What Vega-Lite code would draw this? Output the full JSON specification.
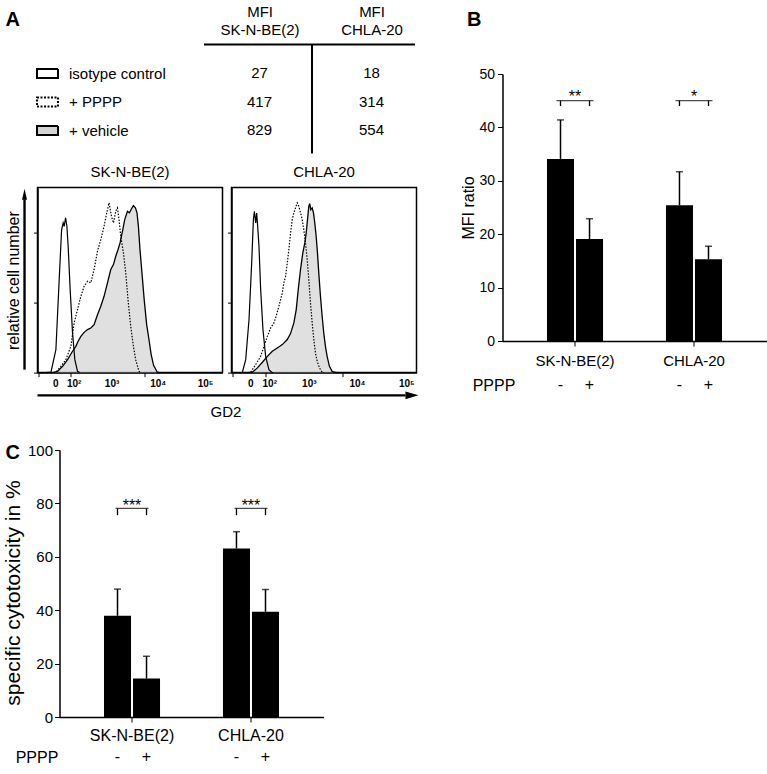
{
"$schema": "https://vega.github.io/schema/vega-lite/v6.json",
"padding": {"left": 2.5, "top": 0, "right": 0, "bottom": 0},
"autosize": {"type": "pad"},
"config": {
  "font": "Liberation Sans",
  "view": {"stroke": null},
  "axis": {"grid": false, "domainColor": "black", "tickColor": "black", "labelColor": "black", "titleColor": "black", "titleFontWeight": "normal"},
  "title": {"color": "black", "fontWeight": "normal"},
  "text": {"color": "black"}
},
"datasets": {
  "h1_iso": [{"x":-44,"n":0},{"x":-19,"n":0.3},{"x":0,"n":13.1},{"x":12.1,"n":53.1},{"x":22.3,"n":81.5},{"x":29.7,"n":85.5},{"x":34.6,"n":83.6},{"x":42,"n":88.4},{"x":49.3,"n":83.6},{"x":57,"n":72.2},{"x":69.9,"n":47.4},{"x":87,"n":22.7},{"x":105.6,"n":7.4},{"x":130,"n":0.7},{"x":150,"n":0}],
  "h1_ppp": [{"x":-20,"n":0},{"x":0,"n":0.2},{"x":19.2,"n":3.6},{"x":43.6,"n":7.4},{"x":74.7,"n":15},{"x":99.8,"n":28.4},{"x":130,"n":36},{"x":165,"n":43.6},{"x":205.5,"n":49.3},{"x":255,"n":52.2},{"x":311,"n":51.3},{"x":377,"n":58.9},{"x":457,"n":69.3},{"x":549,"n":76},{"x":656,"n":83.6},{"x":757,"n":91.3},{"x":855,"n":97},{"x":969,"n":89.3},{"x":1074,"n":85.5},{"x":1210,"n":92.2},{"x":1319,"n":94.1},{"x":1431,"n":87.4},{"x":1560,"n":77.9},{"x":1787,"n":68.4},{"x":2006,"n":57},{"x":2250,"n":41.7},{"x":2576,"n":26.5},{"x":2945,"n":15},{"x":3297,"n":7.4},{"x":3883,"n":0.7},{"x":4300,"n":0}],
  "h1_veh": [{"x":-10,"n":0},{"x":6,"n":0.7},{"x":26.8,"n":3.6},{"x":53.4,"n":7.4},{"x":87.2,"n":12.2},{"x":114.4,"n":15},{"x":136,"n":17.9},{"x":165,"n":20.7},{"x":205.5,"n":23},{"x":255,"n":24.6},{"x":311,"n":25.5},{"x":377,"n":27.4},{"x":457,"n":33.1},{"x":549,"n":37.9},{"x":656,"n":43.6},{"x":786,"n":51.3},{"x":934,"n":58.9},{"x":1074,"n":61.7},{"x":1210,"n":66.5},{"x":1360,"n":70.3},{"x":1506,"n":74.1},{"x":1700,"n":80.7},{"x":1908,"n":87.4},{"x":2184,"n":92.2},{"x":2413,"n":91.3},{"x":2667,"n":93.5},{"x":2945,"n":95.4},{"x":3253,"n":94.1},{"x":3521,"n":91.3},{"x":3771,"n":83.6},{"x":4079,"n":70.3},{"x":4592,"n":54},{"x":5019,"n":41.7},{"x":5670,"n":27.4},{"x":6349,"n":18.9},{"x":7070,"n":10.3},{"x":7987,"n":4},{"x":9570,"n":0.2},{"x":10500,"n":0}],
  "h2_iso": [{"x":-45,"n":0},{"x":-32.9,"n":0.2},{"x":-18.3,"n":7.4},{"x":-5.7,"n":30.3},{"x":3.3,"n":62.7},{"x":9.3,"n":87.4},{"x":13.1,"n":92.2},{"x":18.3,"n":85.5},{"x":22.4,"n":91.2},{"x":26.8,"n":83.6},{"x":32.9,"n":72.2},{"x":41.3,"n":47.4},{"x":53.8,"n":24.6},{"x":70.3,"n":9.3},{"x":93.5,"n":1.7},{"x":115.3,"n":0.2},{"x":130,"n":0}],
  "h2_ppp": [{"x":-10,"n":0},{"x":0,"n":0.2},{"x":18.3,"n":4.6},{"x":41.3,"n":9.3},{"x":59.7,"n":15},{"x":81.8,"n":20.7},{"x":106.9,"n":25.5},{"x":136.2,"n":28.4},{"x":153.1,"n":31.3},{"x":190,"n":37.9},{"x":234.3,"n":45.5},{"x":257.8,"n":51.3},{"x":284.6,"n":55},{"x":313.7,"n":62.7},{"x":343.3,"n":70.3},{"x":377.2,"n":79.8},{"x":413.8,"n":87.4},{"x":451,"n":91.3},{"x":493.8,"n":94.1},{"x":540.1,"n":97},{"x":587,"n":95},{"x":640.9,"n":91.3},{"x":699.2,"n":87.4},{"x":758.4,"n":81.7},{"x":826.4,"n":74.1},{"x":899.8,"n":64.6},{"x":974.5,"n":53.1},{"x":1060,"n":39.8},{"x":1153,"n":28.4},{"x":1247,"n":19},{"x":1355,"n":11.2},{"x":1472,"n":6.5},{"x":1646,"n":2.7},{"x":1874,"n":0.2},{"x":2050,"n":0}],
  "h2_veh": [{"x":-5,"n":0},{"x":5.7,"n":0.2},{"x":25.5,"n":2.7},{"x":50.4,"n":5.9},{"x":81.8,"n":9.3},{"x":121.4,"n":12.2},{"x":171.4,"n":14.1},{"x":234.3,"n":16},{"x":313.7,"n":18.9},{"x":377.2,"n":22.3},{"x":451,"n":28.4},{"x":512.4,"n":36},{"x":569,"n":47.4},{"x":640.9,"n":58.9},{"x":720.9,"n":68.4},{"x":797.9,"n":74.1},{"x":856,"n":79.8},{"x":913.3,"n":87.4},{"x":974.5,"n":95},{"x":1024,"n":96.6},{"x":1076,"n":93.1},{"x":1153,"n":94.1},{"x":1229,"n":91.3},{"x":1310,"n":85.5},{"x":1402,"n":77.9},{"x":1494,"n":68.4},{"x":1591,"n":57},{"x":1727,"n":43.6},{"x":1874,"n":32.2},{"x":2024,"n":22.7},{"x":2195,"n":15},{"x":2381,"n":9.3},{"x":2657,"n":3.6},{"x":3022,"n":0.7},{"x":3417,"n":0.2},{"x":3800,"n":0}],
  "ticklabels": [{"v":0,"t":"0"},{"v":100,"t":"10²"},{"v":1000,"t":"10³"},{"v":10000,"t":"10⁴"},{"v":100000,"t":"10⁵"}]
},
"vconcat": [
 {"hconcat": [
   {"vconcat": [
     {"hconcat": [
       {"width": 20, "height": 109,
        "title": {"text": ["", "A"], "lineHeight": 10, "anchor": "start", "frame": "group", "fontSize": 20, "fontWeight": "bold", "dx": -32, "offset": 13.8, "baseline": "top"},
        "data": {"values": [{"group":"isotype control"},{"group":"+ PPPP"},{"group":"+ vehicle"}]},
        "mark": {"type":"point","shape":"M-1,-0.43H1V0.43H-1Z","size":441,"filled":true,"stroke":"black","strokeWidth":2,"opacity":1},
        "encoding": {
          "y": {"field":"group","type":"nominal","sort":["isotype control","+ PPPP","+ vehicle"],"scale":{"type":"point","padding":0.912,"align":0.567},"axis":{"orient":"right","title":null,"ticks":false,"tickSize":0,"domain":false,"labelPadding":11,"labelFontSize":15,"labelAlign":"left"}},
          "fill": {"field":"group","type":"nominal","scale":{"domain":["isotype control","+ PPPP","+ vehicle"],"range":["white","white","#d3d3d3"]},"legend":null},
          "strokeDash": {"field":"group","type":"nominal","scale":{"domain":["isotype control","+ PPPP","+ vehicle"],"range":[[1,0],[2,1.5],[1,0]]},"legend":null}
        }
       },
       {"width": 211, "height": 109,
        "data": {"values": [
          {"cell":"SK-N-BE(2)","group":"isotype control","mfi":27},{"cell":"CHLA-20","group":"isotype control","mfi":18},
          {"cell":"SK-N-BE(2)","group":"+ PPPP","mfi":417},{"cell":"CHLA-20","group":"+ PPPP","mfi":314},
          {"cell":"SK-N-BE(2)","group":"+ vehicle","mfi":829},{"cell":"CHLA-20","group":"+ vehicle","mfi":554}]},
        "mark": {"type":"text","fontSize":15,"baseline":"middle","color":"black"},
        "encoding": {
          "x": {"field":"cell","type":"nominal","sort":["SK-N-BE(2)","CHLA-20"],"scale":{"type":"point","padding":0.442,"align":0.566},"axis":{"orient":"top","title":null,"ticks":false,"tickSize":0,"labelAngle":0,"labelPadding":40,"labelBaseline":"top","labelFontSize":15,"labelExpr":"['MFI', datum.label]","labelLineHeight":18,"domainWidth":2,"labelOverlap":false}},
          "y": {"field":"group","type":"nominal","sort":["isotype control","+ PPPP","+ vehicle"],"scale":{"type":"point","padding":0.912,"align":0.567},"axis":{"orient":"right","offset":-103,"title":null,"labels":false,"ticks":false,"domainWidth":2}},
          "text": {"field":"mfi","type":"quantitative"}
        }
       }
     ], "spacing": 146, "bounds": "flush"},
     {"hconcat": [
       {"width": 185, "height": 185,
        "view": {"stroke": "black", "strokeWidth": 1.5},
        "title": {"text": "SK-N-BE(2)", "fontSize": 15, "fontWeight": "normal", "offset": 7.4, "baseline": "top", "anchor": "middle", "frame": "group"},
        "layer": [
          {"data": {"name": "h1_veh"}, "mark": {"type":"area","color":"#d3d3d3","line":{"color":"black","strokeWidth":1.3}},
           "encoding": {
             "x": {"field":"x","type":"quantitative","scale":{"type":"symlog","constant":70,"domain":[-101,227800],"nice":false,"zero":false},
                   "axis": {"values":[-90,-80,-70,-60,-50,-40,-30,-20,-10,0,10,20,30,40,50,60,70,80,90,100,200,300,400,500,600,700,800,900,1000,2000,3000,4000,5000,6000,7000,8000,9000,10000,20000,30000,40000,50000,60000,70000,80000,90000,100000,200000],
                     "labels": false, "tickSize": 4, "domainWidth": 1.5,
                     "title": "GD2", "titleX": 188, "titleY": 39, "titleAngle": 0, "titleAlign": "center", "titleBaseline": "middle", "titleFontSize": 15, "titleFontWeight": "normal"}},
             "y": {"field":"n","type":"quantitative","scale":{"domain":[0,105.7],"nice":false},
                   "axis": {"values":[0,20,40,60,80,100],"labels":false,"tickSize":4,"domainWidth":1.5,"title":"relative cell number","titleFontSize":16,"titleFontWeight":"normal","titlePadding":11.5}}
           }},
          {"data": {"name": "h1_ppp"}, "mark": {"type":"line","color":"black","strokeWidth":1.2,"strokeDash":[1.5,1.5]},
           "encoding": {"x": {"field":"x","type":"quantitative"}, "y": {"field":"n","type":"quantitative"}}},
          {"data": {"name": "h1_iso"}, "mark": {"type":"line","color":"black","strokeWidth":1.2},
           "encoding": {"x": {"field":"x","type":"quantitative"}, "y": {"field":"n","type":"quantitative"}}},
          {"data": {"name": "ticklabels"}, "mark": {"type":"text","fontSize":10,"fontWeight":"bold","baseline":"top"},
           "encoding": {"x": {"field":"v","type":"quantitative"}, "y": {"datum": -3.43}, "text": {"field":"t"}}},
          {"data": {"values": [{}]}, "mark": {"type":"rule","color":"black","strokeWidth":2.4},
           "encoding": {"x": {"datum": -101}, "x2": {"datum": 1640000000}, "y": {"datum": -13}}},
          {"data": {"values": [{}]}, "mark": {"type":"point","shape":"M-1,-0.6L1,0L-1,0.6Z","size":169,"filled":true,"color":"black","opacity":1},
           "encoding": {"x": {"datum": 2250000000}, "y": {"datum": -13}}},
          {"data": {"values": [{}]}, "mark": {"type":"rule","color":"black","strokeWidth":2.4},
           "encoding": {"x": {"datum": -251}, "y": {"datum": 1.7}, "y2": {"datum": 99}}},
          {"data": {"values": [{}]}, "mark": {"type":"point","shape":"M-0.45,1L0,-1L0.45,1Z","size":121,"filled":true,"color":"black","opacity":1},
           "encoding": {"x": {"datum": -251}, "y": {"datum": 101.9}}}
        ]
       },
       {"width": 185, "height": 185,
        "view": {"stroke": "black", "strokeWidth": 1.5},
        "title": {"text": "CHLA-20", "fontSize": 15, "fontWeight": "normal", "offset": 7.4, "baseline": "top", "anchor": "middle", "frame": "group"},
        "layer": [
          {"data": {"name": "h2_veh"}, "mark": {"type":"area","color":"#d3d3d3","line":{"color":"black","strokeWidth":1.3}},
           "encoding": {
             "x": {"field":"x","type":"quantitative","scale":{"type":"symlog","constant":70,"domain":[-101,156600],"nice":false,"zero":false},
                   "axis": {"values":[-90,-80,-70,-60,-50,-40,-30,-20,-10,0,10,20,30,40,50,60,70,80,90,100,200,300,400,500,600,700,800,900,1000,2000,3000,4000,5000,6000,7000,8000,9000,10000,20000,30000,40000,50000,60000,70000,80000,90000,100000],
                     "labels": false, "tickSize": 4, "domainWidth": 1.5, "title": null}},
             "y": {"field":"n","type":"quantitative","scale":{"domain":[0,105.7],"nice":false},
                   "axis": {"values":[0,20,40,60,80,100],"labels":false,"tickSize":4,"domainWidth":1.5,"title":null}}
           }},
          {"data": {"name": "h2_ppp"}, "mark": {"type":"line","color":"black","strokeWidth":1.2,"strokeDash":[1.5,1.5]},
           "encoding": {"x": {"field":"x","type":"quantitative"}, "y": {"field":"n","type":"quantitative"}}},
          {"data": {"name": "h2_iso"}, "mark": {"type":"line","color":"black","strokeWidth":1.2},
           "encoding": {"x": {"field":"x","type":"quantitative"}, "y": {"field":"n","type":"quantitative"}}},
          {"data": {"name": "ticklabels"}, "mark": {"type":"text","fontSize":10,"fontWeight":"bold","baseline":"top"},
           "encoding": {"x": {"field":"v","type":"quantitative"}, "y": {"datum": -3.43}, "text": {"field":"t"}}}
        ]
       }
     ], "spacing": 9, "bounds": "flush"}
   ], "spacing": 10.6},
   {"vconcat": [
     {"width": 264, "height": 1, "data": {"values": []}, "mark": {"type": "point", "opacity": 0}},
     {"width": 264, "height": 267,
      "title": {"text": ["", "B"], "lineHeight": 10, "anchor": "start", "frame": "group", "fontSize": 20, "fontWeight": "bold", "dx": -35.5, "offset": 36.8, "baseline": "top"},
      "data": {"values": [
        {"cell":"SK-N-BE(2)","pppp":"-","mean":34.1,"upper":41.4},
        {"cell":"SK-N-BE(2)","pppp":"+","mean":19.1,"upper":22.9},
        {"cell":"CHLA-20","pppp":"-","mean":25.4,"upper":31.7},
        {"cell":"CHLA-20","pppp":"+","mean":15.3,"upper":17.75}]},
      "layer": [
        {"mark": {"type":"bar","color":"black"},
         "encoding": {
           "x": {"field":"cell","type":"nominal","sort":["SK-N-BE(2)","CHLA-20"],"scale":{"paddingInner":0.529,"paddingOuter":0.374},
                 "axis":{"title":"PPPP","titleX":-9,"titleY":44,"titleAngle":0,"titleAlign":"center","titleBaseline":"middle","titleFontSize":16,"titleFontWeight":"normal","labelAngle":0,"labelFontSize":15,"labelPadding":7,"tickSize":5,"domainWidth":1.5,"labelOverlap":false}},
           "xOffset": {"field":"pppp","type":"nominal","sort":["-","+"],"scale":{"paddingInner":0.069}},
           "y": {"field":"mean","type":"quantitative","scale":{"domain":[0,50],"nice":false},
                 "axis":{"values":[0,10,20,30,40,50],"title":"MFI ratio","titleFontSize":16,"titleFontWeight":"normal","labelFontSize":14,"tickSize":5,"labelPadding":3,"titlePadding":2.4,"domainWidth":1.5}}
         }},
        {"mark": {"type":"rule","color":"black","strokeWidth":1.5},
         "encoding": {"x": {"field":"cell","type":"nominal","sort":["SK-N-BE(2)","CHLA-20"]}, "xOffset": {"field":"pppp","type":"nominal","sort":["-","+"]}, "y": {"field":"mean","type":"quantitative"}, "y2": {"field":"upper"}}},
        {"mark": {"type":"tick","color":"black","thickness":1.5,"size":7},
         "encoding": {"x": {"field":"cell","type":"nominal","sort":["SK-N-BE(2)","CHLA-20"]}, "xOffset": {"field":"pppp","type":"nominal","sort":["-","+"]}, "y": {"field":"upper","type":"quantitative"}}},
        {"mark": {"type":"rule","color":"black","strokeWidth":1.3},
         "encoding": {"x": {"field":"cell","type":"nominal","sort":["SK-N-BE(2)","CHLA-20"]}, "xOffset": {"field":"pppp","type":"nominal","sort":["-","+"]}, "y": {"datum": 45.0}, "y2": {"datum": 44.0}}},
        {"data": {"values": [{"cell":"SK-N-BE(2)","sig":"**"},{"cell":"CHLA-20","sig":"*"}]},
         "mark": {"type":"tick","color":"black","thickness":1.3,"size":37},
         "encoding": {"x": {"field":"cell","type":"nominal","sort":["SK-N-BE(2)","CHLA-20"]}, "y": {"datum": 45.0}}},
        {"data": {"values": [{"cell":"SK-N-BE(2)","sig":"**"},{"cell":"CHLA-20","sig":"*"}]},
         "mark": {"type":"text","fontSize":16,"baseline":"alphabetic"},
         "encoding": {"x": {"field":"cell","type":"nominal","sort":["SK-N-BE(2)","CHLA-20"]}, "y": {"datum": 44.7}, "text": {"field":"sig"}}},
        {"mark": {"type":"text","fontSize":16,"baseline":"middle"},
         "encoding": {"x": {"field":"cell","type":"nominal","sort":["SK-N-BE(2)","CHLA-20"]}, "xOffset": {"field":"pppp","type":"nominal","sort":["-","+"]}, "y": {"datum": -8.24}, "text": {"field":"pppp"}}}
      ]
     }
   ], "spacing": 29, "bounds": "flush"}
 ], "spacing": 41},
 {"hconcat": [
   {"width": 1, "height": 267, "data": {"values": []}, "mark": {"type": "point", "opacity": 0}},
   {"width": 264, "height": 267,
    "title": {"text": "C", "anchor": "start", "frame": "group", "fontSize": 20, "fontWeight": "bold", "dx": -54, "offset": -20.4, "baseline": "top"},
    "data": {"values": [
      {"cell":"SK-N-BE(2)","pppp":"-","mean":37.9,"upper":47.9},
      {"cell":"SK-N-BE(2)","pppp":"+","mean":14.4,"upper":22.75},
      {"cell":"CHLA-20","pppp":"-","mean":63.1,"upper":69.4},
      {"cell":"CHLA-20","pppp":"+","mean":39.4,"upper":47.75}]},
    "layer": [
      {"mark": {"type":"bar","color":"black"},
       "encoding": {
         "x": {"field":"cell","type":"nominal","sort":["SK-N-BE(2)","CHLA-20"],"scale":{"paddingInner":0.529,"paddingOuter":0.374},
               "axis":{"title":"PPPP","titleX":-23,"titleY":40,"titleAngle":0,"titleAlign":"center","titleBaseline":"middle","titleFontSize":16,"titleFontWeight":"normal","labelAngle":0,"labelFontSize":16,"labelPadding":5.3,"tickSize":5,"domainWidth":1.5,"labelOverlap":false}},
         "xOffset": {"field":"pppp","type":"nominal","sort":["-","+"],"scale":{"paddingInner":0.069}},
         "y": {"field":"mean","type":"quantitative","scale":{"domain":[0,100],"nice":false},
               "axis":{"values":[0,20,40,60,80,100],"title":"specific cytotoxicity in %","titleFontSize":21,"titleY":142.5,"titleFontWeight":"normal","labelFontSize":15,"tickSize":5,"labelPadding":2,"titlePadding":3.5,"domainWidth":1.5}}
       }},
      {"mark": {"type":"rule","color":"black","strokeWidth":1.5},
       "encoding": {"x": {"field":"cell","type":"nominal","sort":["SK-N-BE(2)","CHLA-20"]}, "xOffset": {"field":"pppp","type":"nominal","sort":["-","+"]}, "y": {"field":"mean","type":"quantitative"}, "y2": {"field":"upper"}}},
      {"mark": {"type":"tick","color":"black","thickness":1.5,"size":7},
       "encoding": {"x": {"field":"cell","type":"nominal","sort":["SK-N-BE(2)","CHLA-20"]}, "xOffset": {"field":"pppp","type":"nominal","sort":["-","+"]}, "y": {"field":"upper","type":"quantitative"}}},
      {"mark": {"type":"rule","color":"black","strokeWidth":1.3},
       "encoding": {"x": {"field":"cell","type":"nominal","sort":["SK-N-BE(2)","CHLA-20"]}, "xOffset": {"field":"pppp","type":"nominal","sort":["-","+"]}, "y": {"datum": 78.1}, "y2": {"datum": 75.6}}},
      {"data": {"values": [{"cell":"SK-N-BE(2)","sig":"***"},{"cell":"CHLA-20","sig":"***"}]},
       "mark": {"type":"tick","color":"black","thickness":1.3,"size":33},
       "encoding": {"x": {"field":"cell","type":"nominal","sort":["SK-N-BE(2)","CHLA-20"]}, "y": {"datum": 78.1}}},
      {"data": {"values": [{"cell":"SK-N-BE(2)","sig":"***"},{"cell":"CHLA-20","sig":"***"}]},
       "mark": {"type":"text","fontSize":16,"baseline":"alphabetic"},
       "encoding": {"x": {"field":"cell","type":"nominal","sort":["SK-N-BE(2)","CHLA-20"]}, "y": {"datum": 77.0}, "text": {"field":"sig"}}},
      {"mark": {"type":"text","fontSize":16,"baseline":"middle"},
       "encoding": {"x": {"field":"cell","type":"nominal","sort":["SK-N-BE(2)","CHLA-20"]}, "xOffset": {"field":"pppp","type":"nominal","sort":["-","+"]}, "y": {"datum": -15}, "text": {"field":"pppp"}}}
    ]
   }
 ], "spacing": 21, "bounds": "flush"}
],
"spacing": 22
}
